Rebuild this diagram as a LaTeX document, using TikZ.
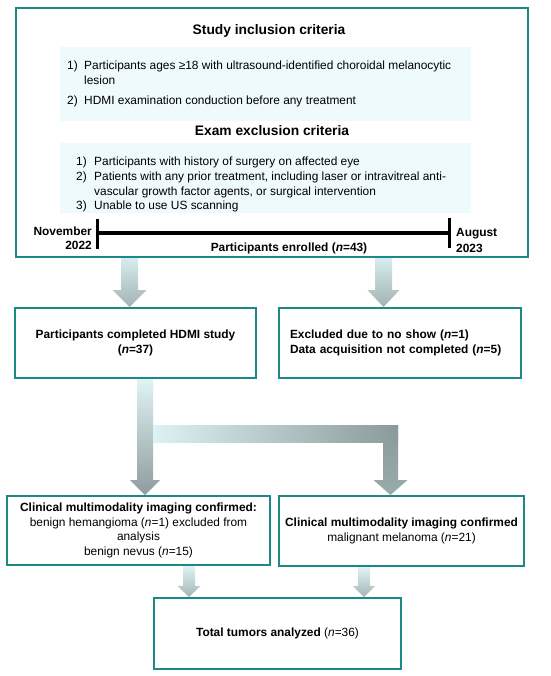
\documentclass[tikz,border=0pt]{standalone}
\usepackage{fontspec}
\setmainfont{Liberation Sans}
\usetikzlibrary{calc,backgrounds}
\definecolor{tealb}{HTML}{1B8A86}
\definecolor{paleblue}{HTML}{EEFAFB}
\definecolor{aTopA}{HTML}{D6ECEE}
\definecolor{aBotA}{HTML}{A2B3B3}
\definecolor{aTopB}{HTML}{E0F3F5}
\definecolor{aBotB}{HTML}{8D9C9C}
\definecolor{hLeft}{HTML}{DDF2F4}
\definecolor{hRight}{HTML}{8B9A9A}
\definecolor{vBot}{HTML}{9AABAB}
\definecolor{sTop}{HTML}{E0F2F4}
\definecolor{sBot}{HTML}{A5B5B5}
\newcommand\bodyfont{\fontsize{11.9}{14.5}\selectfont}
\newcommand\headfont{\fontsize{13.8}{16}\selectfont\bfseries}
% #1 start, #2 tip, #3 half shaft, #4 half head, #5 head length, #6 top colour, #7 bottom colour
\newcommand\vblock[7]{%
  \shade[top color=#6,bottom color=#7] let \p1=(#1), \p2=(#2) in
    (\x1-#3,\y1) -- (\x1+#3,\y1) -- (\x1+#3,\y2+#5) -- (\x1+#4,\y2+#5) --
    (\x1,\y2) -- (\x1-#4,\y2+#5) -- (\x1-#3,\y2+#5) -- cycle;}
\begin{document}
\begin{tikzpicture}[x=1pt,y=-1pt,
  tealbox/.style={draw=tealb, line width=2pt, fill=white, inner sep=0pt, font=\bodyfont},
  pale/.style={fill=paleblue, inner sep=0pt},
  txt/.style={inner sep=0pt, font=\bodyfont},
  btxt/.style={inner sep=0pt, font=\bodyfont\bfseries},
  headtxt/.style={inner sep=0pt, font=\headfont}]
\useasboundingbox (0,0) rectangle (550,676);

% top box
\node[tealbox, minimum width=512pt, minimum height=249pt] (top) at (272,132.5) {};
\node[pale, minimum width=411pt, minimum height=74pt] (inc) at (265.5,84) {};
\node[pale, minimum width=411pt, minimum height=70pt] (exc) at (265.5,178) {};
\node[headtxt, anchor=base] (inchead) at (269,35) {Study inclusion criteria};
\node[headtxt, anchor=base] (exchead) at (272,136) {Exam exclusion criteria};

\node[txt, anchor=base west] (i1n) at (67,70) {1)};
\node[txt, anchor=base west] (i1) at (84,70) {Participants ages ≥18 with ultrasound-identified choroidal melanocytic};
\node[txt, anchor=base west] (i1b) at (84,84.5) {lesion};
\node[txt, anchor=base west] (i2n) at (67,104.5) {2)};
\node[txt, anchor=base west] (i2) at (84,104.5) {HDMI examination conduction before any treatment};

\node[txt, anchor=base west] (e1n) at (76,166) {1)};
\node[txt, anchor=base west] (e1) at (94,166) {Participants with history of surgery on affected eye};
\node[txt, anchor=base west] (e2n) at (76,181) {2)};
\node[txt, anchor=base west] (e2) at (94,181) {Patients with any prior treatment, including laser or intravitreal anti-};
\node[txt, anchor=base west] (e2b) at (94,195.5) {vascular growth factor agents, or surgical intervention};
\node[txt, anchor=base west] (e3n) at (76,210) {3)};
\node[txt, anchor=base west] (e3) at (94,210) {Unable to use US scanning};

% timeline
\coordinate (tlL) at (97,233);
\coordinate (tlR) at (449,233);
\draw[line width=4.5pt] (tlL) -- (tlR);
\draw[line width=3pt] ($(tlL)+(0,-14.5)$) -- ($(tlL)+(0,16)$);
\draw[line width=3pt] ($(tlR)+(0,-15)$) -- ($(tlR)+(0,15)$);
\node[btxt, anchor=base east] (nov) at (92,235) {November};
\node[btxt, anchor=base east] (y22) at (92,249) {2022};
\node[btxt, anchor=base west] (aug) at (456,236.5) {August};
\node[btxt, anchor=base west] (y23) at (456,252) {2023};
\node[btxt, anchor=base] (enr) at (289,251.5) {Participants enrolled (\textit{n}=43)};

% second row
\node[tealbox, minimum width=241pt, minimum height=70pt, align=center, font=\bodyfont\bfseries] (done) at (135.5,343)
  {Participants completed HDMI study\\(\textit{n}=37)};
\node[tealbox, text width=220pt, inner xsep=11pt, minimum height=70pt, align=left, font=\bodyfont\bfseries] (excl) at (400,343)
  {Excluded due to no show (\textit{n}=1)\\Data acquisition not completed (\textit{n}=5)};

% third row
\node[tealbox, minimum width=263pt, minimum height=69pt, align=center] (b3l) at (138.5,530.5)
  {{\bfseries Clinical multimodality imaging confirmed:}\\benign hemangioma (\textit{n}=1) excluded from\\analysis\\benign nevus (\textit{n}=15)};
\node[tealbox, minimum width=245pt, minimum height=70pt, align=center] (b3r) at (401.5,531)
  {{\bfseries Clinical multimodality imaging confirmed}\\malignant melanoma (\textit{n}=21)};

% total
\node[tealbox, minimum width=247pt, minimum height=71pt, align=center] (tot) at (277.5,633.5)
  {{\bfseries Total tumors analyzed} (\textit{n}=36)};

% block arrows
\begin{pgfonlayer}{background}
\vblock{129.5,0 |- top.south}{129.5,0 |- done.north}{8.5pt}{17pt}{17pt}{aTopA}{aBotA}
\vblock{383.5,0 |- top.south}{383.5,0 |- excl.north}{8.5pt}{16pt}{17pt}{aTopA}{aBotA}
\vblock{145,0 |- done.south}{145,0 |- b3l.north}{8pt}{15pt}{15pt}{aTopB}{aBotB}
\coordinate (brA) at (153,425);
\coordinate (brB) at (398,442);
\vblock{390.5,425}{390.5,0 |- b3r.north}{7.5pt}{17pt}{15pt}{hRight}{vBot}
\shade[left color=hLeft, right color=hRight] (brA) rectangle (brB);
\vblock{189,0 |- b3l.south}{189,0 |- tot.north}{6pt}{11.5pt}{11pt}{sTop}{sBot}
\vblock{364,0 |- b3r.south}{364,0 |- tot.north}{6pt}{11pt}{11pt}{sTop}{sBot}
\end{pgfonlayer}
\end{tikzpicture}
\end{document}
